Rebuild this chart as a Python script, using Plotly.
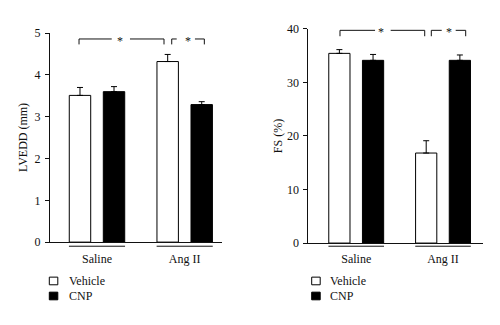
import plotly.graph_objects as go
from plotly.subplots import make_subplots

# ---------------- data ----------------
groups = ["Saline", "Ang II"]
series_names = ["Vehicle", "CNP"]
lvedd_vehicle = [3.51, 4.32]
lvedd_vehicle_err = [0.19, 0.17]
lvedd_cnp = [3.60, 3.29]
lvedd_cnp_err = [0.12, 0.07]
fs_vehicle = [35.4, 16.8]
fs_vehicle_err = [0.7, 2.3]
fs_cnp = [34.1, 34.1]
fs_cnp_err = [1.1, 1.0]
y_titles = ["LVEDD (mm)", "FS (%)"]
y_ranges = [[0, 5], [0, 40]]
y_dticks = [1, 10]

# ---------------- style ----------------
W, H = 500, 325
FONT = "Liberation Serif"
FS = 12
INK = "#111111"
fills = ["white", "black"]

def px_x(v):
    return v / W

def px_y(v):
    return 1 - v / H

fig = make_subplots(rows=1, cols=2)

panels = [
    (lvedd_vehicle, lvedd_vehicle_err, lvedd_cnp, lvedd_cnp_err),
    (fs_vehicle, fs_vehicle_err, fs_cnp, fs_cnp_err),
]
for i, (v, ve, c, ce) in enumerate(panels):
    for name, vals, errs, fill in [(series_names[0], v, ve, fills[0]),
                                   (series_names[1], c, ce, fills[1])]:
        fig.add_trace(go.Bar(
            x=groups, y=vals, name=name, showlegend=False,
            marker=dict(color=fill, line=dict(color="black", width=1)),
            error_y=dict(type="data", symmetric=False, array=errs,
                         arrayminus=[0] * len(errs), color="black",
                         thickness=1, width=3),
        ), row=1, col=i + 1)

# axis domains (pixel-based)
x_domains = [[50 / W, 221.7 / W], [308.3 / W, 482.7 / W]]
y_domains = [[px_y(245.7), px_y(27.3)], [px_y(246.7), px_y(22.7)]]
x_ranges = [[-0.536, 1.422], [-0.552, 1.457]]

for i in range(2):
    fig.update_xaxes(domain=x_domains[i], range=x_ranges[i], showline=True,
                     linecolor=INK, linewidth=1, ticks="", showgrid=False,
                     zeroline=False, ticklabelstandoff=5,
                     tickfont=dict(family=FONT, size=FS, color=INK),
                     row=1, col=i + 1)
    fig.update_yaxes(domain=y_domains[i], range=y_ranges[i], dtick=y_dticks[i],
                     showline=True, linecolor=INK, linewidth=1,
                     ticks="outside", ticklen=4, tickcolor=INK,
                     showgrid=False, zeroline=False, ticklabelstandoff=2,
                     tickfont=dict(family=FONT, size=FS, color=INK),
                     row=1, col=i + 1)

shapes = []
annotations = []

# group underlines
for i in range(2):
    xr = "x" if i == 0 else "x2"
    for g in range(len(groups)):
        shapes.append(dict(type="line", xref=xr, yref="paper",
                           x0=g - 0.32, x1=g + 0.32,
                           y0=px_y(250), y1=px_y(250),
                           line=dict(color=INK, width=1)))

# significance brackets: (x0, x1, gap_left, star, gap_right, y_top, y_bottom)
brackets = [
    [(-0.205, 0.764, 0.168, 0.262, 0.376, 4.86, 4.73),
     (0.852, 1.224, 0.909, 1.034, 1.117, 4.86, 4.73)],
    [(-0.187, 0.789, 0.217, 0.286, 0.397, 39.7, 38.6),
     (0.865, 1.261, 0.985, 1.064, 1.146, 39.7, 38.6)],
]
for i in range(2):
    xr = "x" if i == 0 else "x2"
    yr = "y" if i == 0 else "y2"
    for (x0, x1, gl, st, gr, yt, yb) in brackets[i]:
        ln = dict(color=INK, width=1)
        shapes += [
            dict(type="line", xref=xr, yref=yr, x0=x0, x1=gl, y0=yt, y1=yt, line=ln),
            dict(type="line", xref=xr, yref=yr, x0=gr, x1=x1, y0=yt, y1=yt, line=ln),
            dict(type="line", xref=xr, yref=yr, x0=x0, x1=x0, y0=yt, y1=yb, line=ln),
            dict(type="line", xref=xr, yref=yr, x0=x1, x1=x1, y0=yt, y1=yb, line=ln),
        ]
        annotations.append(dict(x=st, y=yt, xref=xr, yref=yr, text="*",
                                showarrow=False, yshift=-2,
                                xanchor="center", yanchor="middle",
                                font=dict(family=FONT, size=FS, color=INK)))

# y titles
title_pos = [(23, 137), (278, 135)]
for i in range(2):
    annotations.append(dict(x=px_x(title_pos[i][0]), y=px_y(title_pos[i][1]),
                            xref="paper", yref="paper", text=y_titles[i],
                            textangle=-90, showarrow=False,
                            xanchor="center", yanchor="middle",
                            font=dict(family=FONT, size=FS, color=INK)))

# custom legends
legend_x = [(49.3, 66.7), (311.7, 328.0)]
legend_rows = [286.3, 302.0]
for i in range(2):
    sx, tx = legend_x[i]
    for k, name in enumerate(series_names):
        cy = legend_rows[k]
        shapes.append(dict(type="rect", xref="paper", yref="paper",
                           x0=px_x(sx), x1=px_x(sx + 8.5),
                           y0=px_y(cy - 4), y1=px_y(cy + 4),
                           fillcolor=fills[k], line=dict(color="black", width=1)))
        annotations.append(dict(x=px_x(tx), y=px_y(cy), xref="paper", yref="paper",
                                text=name, showarrow=False, xanchor="left",
                                yanchor="middle",
                                font=dict(family=FONT, size=FS, color=INK)))

fig.update_layout(
    width=W, height=H, margin=dict(l=0, r=0, t=0, b=0),
    paper_bgcolor="white", plot_bgcolor="white",
    barmode="group", bargap=0.224, bargroupgap=0.37,
    shapes=shapes, annotations=annotations,
    font=dict(family=FONT, size=FS, color=INK),
)

fig.write_html("out.html")
